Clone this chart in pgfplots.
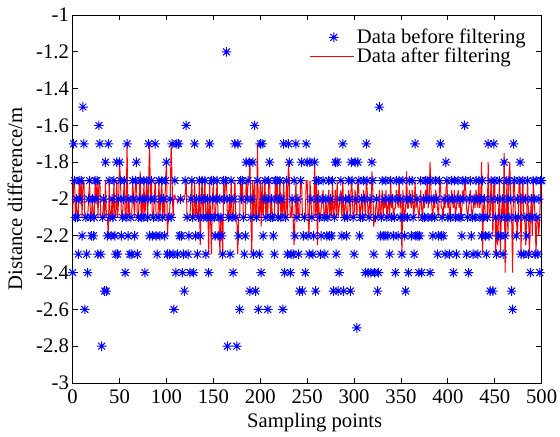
\documentclass[border=0pt]{standalone}
\usepackage{fontspec}
\setmainfont{Liberation Serif}
\usepackage{pgfplots}
\pgfplotsset{compat=1.18}
\pgfdeclareplotmark{mstar}{%
  \pgfpathmoveto{\pgfqpoint{-\pgfplotmarksize}{0pt}}\pgfpathlineto{\pgfqpoint{\pgfplotmarksize}{0pt}}%
  \pgfpathmoveto{\pgfqpoint{0pt}{-\pgfplotmarksize}}\pgfpathlineto{\pgfqpoint{0pt}{\pgfplotmarksize}}%
  \pgfpathmoveto{\pgfqpoint{-0.707\pgfplotmarksize}{-0.707\pgfplotmarksize}}\pgfpathlineto{\pgfqpoint{0.707\pgfplotmarksize}{0.707\pgfplotmarksize}}%
  \pgfpathmoveto{\pgfqpoint{-0.707\pgfplotmarksize}{0.707\pgfplotmarksize}}\pgfpathlineto{\pgfqpoint{0.707\pgfplotmarksize}{-0.707\pgfplotmarksize}}%
  \pgfusepathqstroke}
\pgfplotsset{
  legstar/.style={legend image code/.code={\draw[mark repeat=2,mark phase=2,##1] plot coordinates {(0pt,0pt)(18pt,0pt)(33pt,0pt)};}},
  legline/.style={legend image code/.code={\draw[##1] (0pt,0pt) -- (33pt,0pt);}},
}
\newcommand{\lblfont}{\fontsize{15.5pt}{18pt}\selectfont}
\begin{document}
\lblfont
\begin{tikzpicture}
\path[use as bounding box] (-54.5pt,-39.75pt) rectangle (365.5pt,287.25pt);
\begin{axis}[
  at={(0pt,0pt)}, anchor=south west,
  scale only axis, width=351.75pt, height=276pt,
  xmin=0, xmax=500, ymin=-3, ymax=-1,
  xtick={0,50,100,150,200,250,300,350,400,450,500},
  xticklabels={0,50,100,150,200,250,300,350,400,450,500},
  ytick={-3,-2.8,-2.6,-2.4,-2.2,-2,-1.8,-1.6,-1.4,-1.2,-1},
  yticklabels={-3,-2.8,-2.6,-2.4,-2.2,-2,-1.8,-1.6,-1.4,-1.2,-1},
  tick align=inside, tick pos=both, major tick length=4pt,
  axis line style={line width=0.6pt},
  every tick/.style={black, line width=0.6pt},
  /pgf/number format/assume math mode=true,
  ticklabel style={font=\lblfont},
  yticklabel style={xshift=2.5pt},
  xlabel={Sampling points}, ylabel={Distance difference/m},
  xlabel style={font=\lblfont, at={(axis description cs:0.516,-0.107)}, anchor=center},
  ylabel style={font=\lblfont, at={(axis description cs:-0.123,0.5)}, anchor=center, rotate=0},
  legend style={draw=none, fill=none, at={(rel axis cs:0.975,0.975)}, anchor=north east, font=\lblfont, inner sep=1pt, row sep=-3pt},
  legend cell align=left,
]
\addplot[only marks, mark=mstar, mark size=3.6pt, color=blue, line width=0.75pt, legstar]
coordinates {
(0,-2.4)(1,-1.7)(2,-1.9)(3,-2.1)(4,-2.0)(5,-2.1)(6,-2.3)(7,-1.9)(8,-2.0)(9,-1.9)
(10,-2.2)(11,-1.5)(12,-1.7)(13,-2.6)(14,-2.1)(15,-2.3)(16,-2.4)(17,-2.0)(18,-1.9)(19,-2.1)
(20,-2.2)(21,-2.0)(22,-2.2)(23,-2.1)(24,-1.9)(25,-2.0)(26,-1.9)(27,-2.3)(28,-1.6)(29,-1.7)
(30,-2.3)(31,-2.8)(32,-2.1)(33,-2.0)(34,-2.5)(35,-1.8)(36,-2.5)(37,-2.2)(38,-1.7)(39,-1.9)
(40,-2.1)(41,-2.2)(42,-2.0)(43,-2.1)(44,-1.9)(45,-2.2)(46,-2.3)(47,-1.8)(48,-2.3)(49,-2.0)
(50,-1.8)(51,-1.9)(52,-2.2)(53,-2.1)(54,-2.0)(55,-1.9)(56,-2.4)(57,-2.1)(58,-1.7)(59,-2.2)
(60,-2.0)(61,-2.3)(62,-2.1)(63,-2.3)(64,-1.9)(65,-2.0)(66,-2.2)(67,-1.9)(68,-1.8)(69,-2.3)
(70,-2.1)(71,-2.0)(72,-1.9)(73,-2.1)(74,-2.0)(75,-2.1)(76,-1.9)(77,-2.4)(78,-2.0)(79,-1.9)
(80,-2.1)(81,-1.7)(82,-2.2)(83,-2.0)(84,-1.9)(85,-2.2)(86,-2.1)(87,-2.0)(88,-1.7)(89,-2.2)
(90,-2.3)(91,-2.1)(92,-1.9)(93,-2.2)(94,-2.0)(95,-1.9)(96,-2.1)(97,-2.0)(98,-2.2)(99,-1.9)
(100,-1.8)(101,-2.3)(102,-2.1)(103,-2.3)(104,-2.0)(105,-2.1)(106,-1.7)(107,-2.3)(108,-2.6)(109,-1.9)
(110,-2.4)(111,-1.7)(112,-2.3)(113,-1.7)(114,-2.2)(115,-2.0)(116,-2.2)(117,-2.4)(118,-2.3)(119,-2.5)
(120,-1.9)(121,-1.6)(122,-2.1)(123,-2.3)(124,-2.2)(125,-2.4)(126,-2.0)(127,-1.9)(128,-2.1)(129,-2.4)
(130,-1.7)(131,-2.2)(132,-2.0)(133,-2.3)(134,-2.1)(135,-1.9)(136,-2.2)(137,-2.0)(138,-1.9)(139,-2.1)
(140,-2.0)(141,-1.9)(142,-2.3)(143,-2.1)(144,-2.0)(145,-2.4)(146,-1.7)(147,-2.1)(148,-1.9)(149,-2.0)
(150,-1.9)(151,-2.1)(152,-2.2)(153,-2.0)(154,-1.9)(155,-2.2)(156,-2.1)(157,-2.0)(158,-2.1)(159,-2.2)
(160,-2.3)(161,-1.9)(162,-2.0)(163,-1.9)(164,-1.2)(165,-2.8)(166,-2.1)(167,-2.0)(168,-2.3)(169,-1.9)
(170,-2.1)(171,-2.4)(172,-2.0)(173,-1.7)(174,-2.1)(175,-2.8)(176,-1.7)(177,-2.2)(178,-2.6)(179,-1.9)
(180,-2.0)(181,-1.9)(182,-2.1)(183,-2.3)(184,-2.2)(185,-1.8)(186,-2.0)(187,-1.9)(188,-1.8)(189,-2.5)
(190,-2.1)(191,-2.0)(192,-1.8)(193,-2.3)(194,-1.6)(195,-2.5)(196,-2.1)(197,-1.9)(198,-2.6)(199,-2.3)
(200,-1.7)(201,-2.4)(202,-1.7)(203,-2.2)(204,-2.0)(205,-1.9)(206,-2.1)(207,-2.0)(208,-2.6)(209,-1.9)
(210,-1.8)(211,-2.1)(212,-2.0)(213,-2.1)(214,-2.2)(215,-2.3)(216,-1.9)(217,-2.0)(218,-1.9)(219,-2.1)
(220,-2.0)(221,-1.9)(222,-2.1)(223,-2.0)(224,-2.6)(225,-1.7)(226,-2.4)(227,-2.1)(228,-1.9)(229,-2.3)
(230,-1.7)(231,-1.8)(232,-2.4)(233,-2.3)(234,-2.0)(235,-2.3)(236,-1.9)(237,-2.2)(238,-1.7)(239,-2.1)
(240,-2.0)(241,-2.3)(242,-2.5)(243,-1.9)(244,-1.8)(245,-2.5)(246,-2.2)(247,-2.1)(248,-2.4)(249,-1.7)
(250,-1.8)(251,-2.2)(252,-2.3)(253,-1.8)(254,-2.0)(255,-2.1)(256,-2.3)(257,-2.2)(258,-1.8)(259,-2.5)
(260,-1.9)(261,-2.0)(262,-1.9)(263,-2.1)(264,-2.3)(265,-2.2)(266,-2.0)(267,-1.9)(268,-2.1)(269,-2.3)
(270,-2.0)(271,-2.2)(272,-2.1)(273,-1.9)(274,-2.2)(275,-2.0)(276,-2.2)(277,-1.9)(278,-2.5)(279,-2.1)
(280,-1.8)(281,-2.3)(282,-1.8)(283,-2.5)(284,-2.4)(285,-2.0)(286,-1.9)(287,-2.2)(288,-1.7)(289,-2.5)
(290,-2.1)(291,-2.0)(292,-2.2)(293,-2.1)(294,-1.9)(295,-2.0)(296,-2.5)(297,-1.8)(298,-1.9)(299,-2.1)
(300,-2.3)(301,-1.8)(302,-2.0)(303,-2.7)(304,-1.8)(305,-1.9)(306,-2.2)(307,-2.1)(308,-2.0)(309,-2.1)
(310,-1.9)(311,-2.0)(312,-2.4)(313,-1.7)(314,-1.9)(315,-2.4)(316,-2.1)(317,-2.0)(318,-2.4)(319,-1.8)
(320,-1.9)(321,-2.3)(322,-2.4)(323,-2.1)(324,-2.0)(325,-2.5)(326,-2.4)(327,-1.5)(328,-2.2)(329,-2.1)
(330,-1.9)(331,-2.2)(332,-2.0)(333,-2.2)(334,-1.9)(335,-2.1)(336,-2.2)(337,-2.0)(338,-2.3)(339,-1.9)
(340,-2.1)(341,-2.0)(342,-2.2)(343,-2.1)(344,-2.4)(345,-1.9)(346,-2.0)(347,-2.2)(348,-1.9)(349,-2.1)
(350,-2.0)(351,-2.3)(352,-1.9)(353,-2.1)(354,-2.2)(355,-2.5)(356,-2.0)(357,-2.1)(358,-2.4)(359,-1.9)
(360,-2.0)(361,-2.2)(362,-1.9)(363,-2.1)(364,-2.3)(365,-1.7)(366,-2.2)(367,-2.0)(368,-2.2)(369,-2.4)
(370,-2.2)(371,-1.9)(372,-2.4)(373,-2.1)(374,-2.0)(375,-2.1)(376,-1.9)(377,-2.0)(378,-1.9)(379,-2.1)
(380,-2.0)(381,-2.4)(382,-1.9)(383,-2.1)(384,-2.2)(385,-2.0)(386,-2.1)(387,-1.9)(388,-2.0)(389,-2.3)
(390,-2.2)(391,-1.9)(392,-1.7)(393,-2.2)(394,-2.1)(395,-2.2)(396,-2.0)(397,-2.3)(398,-1.8)(399,-1.9)
(400,-2.1)(401,-2.0)(402,-2.3)(403,-2.1)(404,-1.9)(405,-2.0)(406,-2.4)(407,-1.9)(408,-2.1)(409,-2.3)
(410,-2.0)(411,-1.9)(412,-2.1)(413,-2.0)(414,-2.1)(415,-2.2)(416,-1.9)(417,-2.0)(418,-1.6)(419,-1.9)
(420,-2.3)(421,-2.1)(422,-2.4)(423,-2.0)(424,-1.9)(425,-2.2)(426,-2.1)(427,-2.3)(428,-2.0)(429,-2.1)
(430,-1.9)(431,-2.0)(432,-2.3)(433,-1.9)(434,-2.1)(435,-2.0)(436,-2.2)(437,-1.9)(438,-2.1)(439,-2.0)
(440,-2.2)(441,-2.3)(442,-2.1)(443,-1.7)(444,-2.2)(445,-2.5)(446,-1.9)(447,-2.0)(448,-2.5)(449,-1.7)
(450,-1.9)(451,-2.1)(452,-2.3)(453,-2.0)(454,-2.2)(455,-1.9)(456,-2.2)(457,-2.1)(458,-2.0)(459,-2.3)
(460,-1.8)(461,-2.2)(462,-2.1)(463,-1.9)(464,-2.0)(465,-1.9)(466,-2.1)(467,-2.0)(468,-2.5)(469,-2.6)
(470,-1.7)(471,-1.9)(472,-2.1)(473,-2.2)(474,-2.0)(475,-2.1)(476,-1.9)(477,-1.8)(478,-2.3)(479,-2.0)
(480,-1.9)(481,-2.3)(482,-2.1)(483,-2.0)(484,-2.2)(485,-1.9)(486,-2.3)(487,-2.1)(488,-2.4)(489,-2.0)
(490,-2.1)(491,-1.9)(492,-2.0)(493,-2.3)(494,-1.9)(495,-2.1)(496,-2.3)(497,-2.0)(498,-2.4)(499,-1.9)
(500,-1.9)
};
\addlegendentry{Data before filtering}
\addplot[color=red, line width=0.75pt, mark=none, legline]
coordinates {
(0,-2.1)(1,-1.9)(2,-1.9)(3,-2.1)(4,-2.0)(5,-2.1)(6,-2.1)(7,-1.9)(8,-2.0)(9,-1.9)
(10,-2.1)(11,-1.9)(12,-1.9)(13,-2.1)(14,-2.1)(15,-2.1)(16,-2.1)(17,-2.0)(18,-1.9)(19,-2.1)
(20,-2.1)(21,-2.0)(22,-2.1)(23,-2.1)(24,-1.9)(25,-2.0)(26,-1.9)(27,-2.1)(28,-1.9)(29,-1.9)
(30,-2.1)(31,-2.1)(32,-2.1)(33,-2.0)(34,-2.1)(35,-1.9)(36,-2.1)(37,-2.1)(38,-2.2)(39,-1.9)
(40,-2.1)(41,-2.1)(42,-2.0)(43,-2.1)(44,-1.9)(45,-2.1)(46,-2.1)(47,-1.9)(48,-2.1)(49,-2.0)
(50,-1.8)(51,-1.9)(52,-2.1)(53,-2.1)(54,-2.0)(55,-1.9)(56,-2.1)(57,-2.1)(58,-1.7)(59,-2.1)
(60,-2.0)(61,-2.1)(62,-2.1)(63,-2.1)(64,-1.9)(65,-2.0)(66,-2.1)(67,-1.9)(68,-1.9)(69,-2.1)
(70,-2.1)(71,-2.0)(72,-1.85)(73,-2.1)(74,-2.0)(75,-2.1)(76,-1.9)(77,-2.1)(78,-2.0)(79,-1.9)
(80,-2.1)(81,-1.9)(82,-1.7)(83,-2.0)(84,-1.9)(85,-2.1)(86,-2.1)(87,-2.0)(88,-1.9)(89,-2.1)
(90,-2.1)(91,-2.1)(92,-1.9)(93,-2.1)(94,-2.0)(95,-1.9)(96,-2.1)(97,-2.0)(98,-2.1)(99,-1.9)
(100,-1.8)(101,-2.2)(102,-2.1)(103,-2.1)(104,-2.0)(105,-1.7)(106,-1.9)(107,-2.1)(108,-2.0)(109,-1.98)
(110,-2.0)(111,-2.0)(112,-2.02)(113,-2.0)(114,-2.0)(115,-1.99)(116,-2.0)(117,-2.0)(118,-2.01)(119,-2.0)
(120,-1.97)(121,-1.9)(122,-2.1)(123,-2.1)(124,-2.1)(125,-2.1)(126,-2.0)(127,-1.9)(128,-2.1)(129,-2.1)
(130,-1.9)(131,-2.1)(132,-2.0)(133,-2.1)(134,-2.1)(135,-1.9)(136,-2.25)(137,-2.0)(138,-1.9)(139,-2.1)
(140,-2.0)(141,-1.9)(142,-2.1)(143,-2.1)(144,-2.0)(145,-2.3)(146,-1.9)(147,-2.1)(148,-2.3)(149,-2.0)
(150,-1.9)(151,-2.1)(152,-2.1)(153,-2.0)(154,-1.9)(155,-2.1)(156,-2.1)(157,-2.3)(158,-2.1)(159,-2.1)
(160,-2.3)(161,-1.9)(162,-2.0)(163,-1.9)(164,-1.9)(165,-2.1)(166,-2.1)(167,-2.0)(168,-2.1)(169,-1.9)
(170,-2.1)(171,-2.1)(172,-2.0)(173,-1.9)(174,-2.1)(175,-2.1)(176,-2.3)(177,-2.1)(178,-2.1)(179,-1.9)
(180,-2.0)(181,-1.9)(182,-2.1)(183,-2.1)(184,-2.1)(185,-1.9)(186,-2.0)(187,-1.9)(188,-1.9)(189,-1.8)
(190,-2.1)(191,-2.3)(192,-1.9)(193,-2.1)(194,-1.9)(195,-2.1)(196,-2.1)(197,-1.7)(198,-2.1)(199,-2.1)
(200,-1.9)(201,-2.15)(202,-1.9)(203,-2.1)(204,-2.0)(205,-1.9)(206,-2.1)(207,-2.0)(208,-2.1)(209,-1.9)
(210,-1.9)(211,-2.1)(212,-2.0)(213,-2.1)(214,-2.1)(215,-2.1)(216,-1.9)(217,-2.0)(218,-1.9)(219,-2.1)
(220,-2.0)(221,-1.9)(222,-2.1)(223,-2.0)(224,-2.1)(225,-1.9)(226,-2.1)(227,-2.1)(228,-1.9)(229,-2.1)
(230,-1.8)(231,-1.9)(232,-2.1)(233,-2.1)(234,-2.0)(235,-2.1)(236,-2.25)(237,-2.1)(238,-1.9)(239,-2.1)
(240,-2.0)(241,-2.1)(242,-2.1)(243,-1.9)(244,-1.9)(245,-2.1)(246,-2.1)(247,-2.1)(248,-2.1)(249,-1.9)
(250,-1.9)(251,-2.1)(252,-2.2)(253,-1.9)(254,-2.0)(255,-2.1)(256,-2.1)(257,-2.1)(258,-1.8)(259,-2.1)
(260,-1.9)(261,-2.25)(262,-1.95)(263,-2.1)(264,-2.1)(265,-2.05)(266,-2.0)(267,-1.95)(268,-2.1)(269,-2.1)
(270,-2.0)(271,-2.1)(272,-2.05)(273,-1.95)(274,-2.1)(275,-2.0)(276,-2.1)(277,-1.9)(278,-2.1)(279,-2.05)
(280,-1.95)(281,-2.1)(282,-1.9)(283,-2.1)(284,-2.05)(285,-2.0)(286,-1.95)(287,-2.1)(288,-1.9)(289,-2.1)
(290,-2.05)(291,-2.0)(292,-2.1)(293,-2.1)(294,-1.95)(295,-2.0)(296,-2.1)(297,-1.9)(298,-1.95)(299,-2.1)
(300,-2.1)(301,-1.95)(302,-2.0)(303,-2.1)(304,-1.9)(305,-1.95)(306,-2.1)(307,-2.05)(308,-2.0)(309,-2.1)
(310,-1.95)(311,-2.0)(312,-2.1)(313,-1.9)(314,-1.95)(315,-2.1)(316,-2.05)(317,-2.0)(318,-2.1)(319,-1.85)
(320,-1.95)(321,-2.15)(322,-2.1)(323,-2.05)(324,-2.0)(325,-2.1)(326,-2.1)(327,-1.95)(328,-2.1)(329,-2.05)
(330,-1.95)(331,-2.1)(332,-2.0)(333,-2.05)(334,-1.95)(335,-2.1)(336,-2.05)(337,-2.0)(338,-2.1)(339,-1.9)
(340,-2.05)(341,-2.0)(342,-2.1)(343,-2.05)(344,-2.05)(345,-1.95)(346,-2.0)(347,-2.05)(348,-1.9)(349,-2.05)
(350,-2.0)(351,-2.3)(352,-1.95)(353,-2.05)(354,-2.1)(355,-2.05)(356,-1.85)(357,-2.05)(358,-2.05)(359,-1.95)
(360,-2.0)(361,-2.05)(362,-1.95)(363,-2.05)(364,-2.1)(365,-1.9)(366,-2.05)(367,-2.0)(368,-2.05)(369,-2.1)
(370,-2.05)(371,-1.95)(372,-2.05)(373,-2.1)(374,-2.0)(375,-2.05)(376,-1.95)(377,-2.0)(378,-1.9)(379,-2.05)
(380,-2.0)(381,-1.8)(382,-1.95)(383,-2.05)(384,-2.1)(385,-2.0)(386,-2.05)(387,-1.95)(388,-2.0)(389,-2.05)
(390,-2.1)(391,-1.95)(392,-1.9)(393,-2.05)(394,-2.05)(395,-2.1)(396,-2.0)(397,-2.05)(398,-1.95)(399,-1.9)
(400,-2.05)(401,-2.0)(402,-2.1)(403,-2.05)(404,-1.95)(405,-2.0)(406,-2.05)(407,-1.95)(408,-2.1)(409,-2.05)
(410,-2.0)(411,-1.95)(412,-2.05)(413,-2.0)(414,-2.1)(415,-2.05)(416,-1.95)(417,-2.0)(418,-1.9)(419,-1.95)
(420,-2.05)(421,-2.1)(422,-2.05)(423,-2.0)(424,-1.95)(425,-2.05)(426,-2.1)(427,-2.05)(428,-2.0)(429,-2.05)
(430,-1.95)(431,-2.0)(432,-2.05)(433,-1.9)(434,-2.05)(435,-2.0)(436,-1.8)(437,-2.3)(438,-2.05)(439,-2.0)
(440,-2.1)(441,-2.1)(442,-2.1)(443,-1.8)(444,-2.1)(445,-2.1)(446,-1.9)(447,-2.0)(448,-2.2)(449,-1.9)
(450,-1.9)(451,-2.3)(452,-2.1)(453,-2.25)(454,-2.1)(455,-1.9)(456,-2.3)(457,-2.1)(458,-2.0)(459,-2.1)
(460,-1.75)(461,-2.4)(462,-2.1)(463,-1.9)(464,-2.2)(465,-1.9)(466,-1.8)(467,-2.0)(468,-2.1)(469,-2.4)
(470,-1.9)(471,-1.9)(472,-2.1)(473,-2.1)(474,-2.2)(475,-2.1)(476,-1.9)(477,-1.9)(478,-2.3)(479,-2.0)
(480,-1.9)(481,-2.1)(482,-2.1)(483,-2.25)(484,-2.1)(485,-1.9)(486,-2.1)(487,-2.3)(488,-2.1)(489,-2.0)
(490,-2.2)(491,-1.9)(492,-2.0)(493,-2.1)(494,-2.3)(495,-2.1)(496,-2.1)(497,-2.2)(498,-2.1)(499,-1.9)
(500,-1.9)
};
\addlegendentry{Data after filtering}
\end{axis}
\end{tikzpicture}
\end{document}
